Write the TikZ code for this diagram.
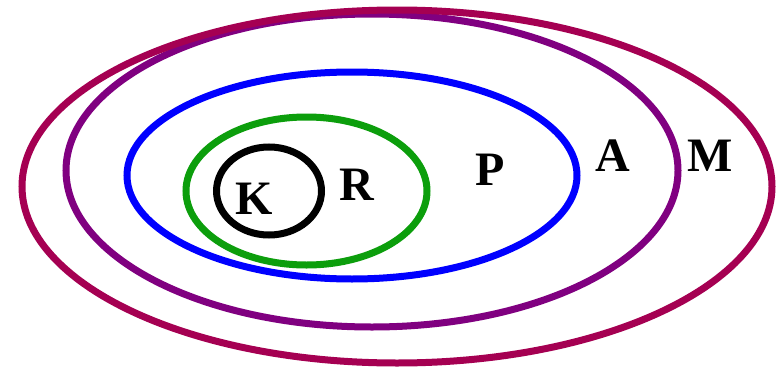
\documentclass[tikz,border=0pt]{standalone}
\usepackage{fontspec}
\setmainfont{Liberation Serif}
\definecolor{crim}{RGB}{165,0,82}
\definecolor{purp}{RGB}{128,0,128}
\definecolor{blu}{RGB}{0,0,255}
\definecolor{grn}{RGB}{12,158,12}
\begin{document}
\begin{tikzpicture}[x=1pt,y=1pt,
  ring/.style={line width=7pt},
  lab/.style={anchor=base,inner sep=0pt,font=\fontsize{48}{48}\selectfont\bfseries}]
\fill[white] (0,0) rectangle (782,-367);
\useasboundingbox (0,0) rectangle (782,-367);
\draw[ring,black] (269,-191) ellipse [x radius=52.5,y radius=44];
\draw[ring,grn] (306.5,-191) ellipse [x radius=120.5,y radius=74];
\draw[ring,blu] (352,-175.5) ellipse [x radius=225,y radius=103.5];
\draw[ring,purp] (372,-170.5) ellipse [x radius=306,y radius=156.5];
\draw[ring,crim] (397,-186.5) ellipse [x radius=375,y radius=176.5];
\node[lab] (k) at (254,-214) {K};
\node[lab] (r) at (357,-200) {R};
\node[lab] (p) at (490,-185) {P};
\node[lab] (a) at (613,-171) {A};
\node[lab] (m) at (710,-171) {M};
\end{tikzpicture}
\end{document}
